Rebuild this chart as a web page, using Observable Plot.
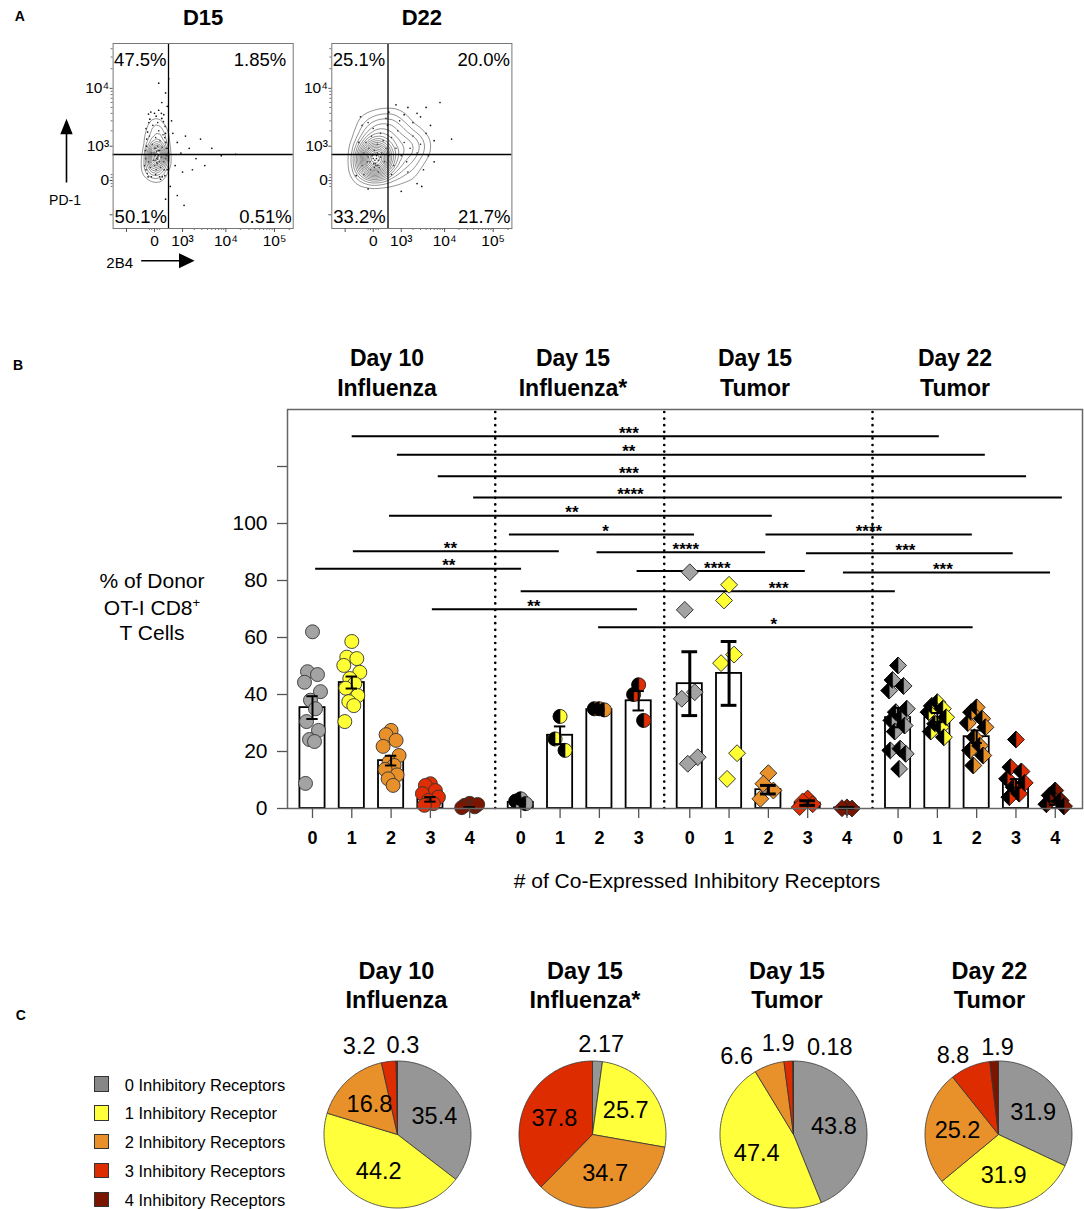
<!DOCTYPE html>
<html><head><meta charset="utf-8">
<script src="https://cdn.jsdelivr.net/npm/d3@7"></script>
<script src="https://cdn.jsdelivr.net/npm/@observablehq/plot@0.6"></script>
<style>
body{margin:0;background:#fff;}
#fig{position:relative;width:1084px;height:1209px;overflow:hidden;background:#fff;font-family:"Liberation Sans",Arial,Helvetica,sans-serif;color:#000}
</style></head><body><div id="fig"></div>
<script>
const FONT = '"Liberation Sans", Arial, Helvetica, sans-serif';

// ================= DATA =================
// Panel A (flow cytometry, raw fluorescence values)
const flowTitles = ["D15", "D22"];
const quadrantPercents = [["47.5%", "1.85%", "50.1%", "0.51%"], ["25.1%", "20.0%", "33.2%", "21.7%"]];
const gate2B4 = [341, 368];
const gatePD1 = [643, 643];
const flowXTicks = [-1000, 0, 1000, 10000, 100000];
const flowXTickLabels = ["", "0", "10³", "10⁴", "10⁵"];
const flowYTicks = [-1000, 0, 1000, 10000];
const flowYTickLabels = ["", "0", "10³", "10⁴"];
const flowXMinor = [-100, -50, 50, 100, 2000, 3000, 4000, 5000, 6000, 7000, 8000, 9000, 20000, 30000, 40000, 50000, 60000, 70000, 80000, 90000, 200000];
const flowYMinor = [-100, -50, 50, 100, 2000, 3000, 4000, 5000, 6000, 7000, 8000, 9000, 20000, 30000, 40000];
// dense population (drawn as contours + dots)
const d15Core = [
  [-120,400],[-80,250],[-60,700],[-40,1100],[-20,450],[0,300],[0,900],[10,600],[20,1500],[30,200],[40,500],[40,750],[50,350],[60,1000],[70,600],[80,2000],[90,400],[100,800],[110,1300],[120,250],[140,550],[160,950],[-100,1600],[-30,2500],[60,2800],[180,1700],[-150,120],[200,400],[20,100],[100,60],
  [30,650],[50,550],[10,450],[70,800],[-10,700],[40,380],[60,480],[20,900]
];
// outlying events (dots only)
const d15Scatter = [
  [-200,800],[-220,300],[-180,2200],[-90,3200],[30,3600],[150,3300],[240,2400],[260,1200],[280,600],[300,200],[230,80],[-60,60],[120,20],[-160,1400],[250,1800],[320,900],[200,3800],[-120,3900],[80,4500],[0,4000],
  [-190,500],[-170,1000],[-140,1900],[-110,2800],[190,2900],[230,1500],[270,900],[250,500],[210,200],[-180,200],[-70,4200],[140,4000],[-130,60],[160,60],
  [150,6000],[250,8500],[80,12000],[350,14000],[300,5200],[450,3000],[500,1800],[700,1200],[900,700],[1200,1600],[1500,900],[2200,500],[2800,1400],[5000,900],[8000,600],[16000,650],[600,300],[1000,150],[1800,200],[400,-100],[700,-300],[1100,-600],[250,-400],[3500,300]
];
const d22Core = [
  [-250,300],[-200,700],[-150,1200],[-120,400],[-80,900],[-50,200],[-30,1600],[0,500],[0,2200],[20,800],[40,350],[60,600],[80,1100],[100,450],[120,250],[150,1800],[180,700],[220,1300],[250,400],[300,900],[350,2500],[400,600],[500,1500],[600,300],[700,900],[800,2000],[1000,600],[1200,1200],[1400,400],[1700,900],[2000,1600],[2500,700],[3000,1100],[900,3000],[300,3300],[-100,2800],[100,150],[500,100],[1500,150],[-200,100],[60,500],[30,450],[80,700],[-20,600],[150,550],[50,300],
  [-60,400],[10,350],[40,650],[-100,550],[90,300],[20,250]
];
const d22Scatter = [
  [3500,200],[4500,600],[4000,1800],[6000,1300],[2500,4000],[1500,5000],[700,5500],[4000,5000],[8000,6000],[14000,1400],[-300,3500],[-450,80],[3200,-100],[1000,-200],[-100,-150],[2000,2800],
  [3000,3500],[5000,2500],[6000,400],[2500,-50],[400,4200],[-250,2500],[-350,1200],[1200,3800]
];

// Panel B
const groupNames = ["Day 10 Influenza", "Day 15 Influenza*", "Day 15 Tumor", "Day 22 Tumor"];
const groupTitleLines = [["Day 10", "Influenza"], ["Day 15", "Influenza*"], ["Day 15", "Tumor"], ["Day 22", "Tumor"]];
const receptorCounts = [[0, 1, 2, 3, 4], [0, 1, 2, 3], [0, 1, 2, 3, 4], [0, 1, 2, 3, 4]];
const barMeans = [[35.4, 44.2, 16.8, 3.2, 0.3], [2.17, 25.7, 34.7, 37.8], [43.8, 47.4, 6.6, 1.9, 0.18], [31.9, 31.9, 25.2, 8.8, 1.9]];
const barSEM = [[4.0, 2.1, 1.7, 0.8, 0.15], [0.5, 3.1, 0.3, 3.4], [11.2, 11.2, 1.5, 0.8, 0.1], [3.4, 1.6, 2.2, 1.5, 0.6]];
const pointValues = [
  [[62, 48, 47, 44.3, 41, 38, 35, 30.5, 27.4, 24.2, 23.5, 8.8],
   [58.6, 53.1, 52.6, 50.2, 47.8, 45.6, 43.8, 42.2, 39.6, 37.5, 36.1, 30.5],
   [27.4, 25.9, 23.9, 21.8, 18.6, 16.3, 15.1, 13.7, 11.8, 10.4, 8.1],
   [8.7, 8.1, 6.3, 5.2, 4.0, 2.8, 1.7, 1.1],
   [1.8, 1.1, 0.6, 0.3, 1.4]],
  [[3.4, 2.6, 1.7],
   [32.3, 24.4, 20.4],
   [35, 35, 34.6],
   [43.4, 40, 30.9]],
  [[82.9, 69.7, 40.8, 38.5, 18, 15.7],
   [78.5, 73, 54, 51, 19.4, 10.4],
   [12.4, 8.7, 6.3, 3.4],
   [3.5, 2.5, 1.5, 0.5],
   [0.4, 0.1, 0]],
  [[50.2, 45.1, 43, 41.4, 35, 33.8, 32, 30.9, 29.1, 27, 21, 20.4, 19.2, 13.9],
   [37.3, 36, 35, 33.8, 32, 29.7, 28.5, 27, 25],
   [35.5, 33.8, 31.5, 30, 28.5, 25, 22, 20.4, 18.6, 15.1],
   [24.2, 14.5, 13, 10.4, 9, 7.5, 5.2, 4],
   [6.3, 4.6, 2.8, 1.5, 0.8]]
];
const yTicks = [0, 20, 40, 60, 80, 100, 120];
// significance brackets (x in category units, y in %)
const sigX1 = [1.01, 2.16, 3.20, 4.10, 1.96, 5.01, 1.04, 0.08, 5.31, 3.05, 7.28, 11.54, 7.24, 12.57, 8.26, 13.51];
const sigX2 = [15.95, 17.12, 18.17, 19.08, 11.70, 9.72, 6.28, 5.32, 14.83, 8.27, 16.81, 16.79, 11.53, 17.83, 12.54, 18.78];
const sigY = [130.6, 124.1, 116.6, 109.1, 102.7, 96.1, 90.3, 84.1, 76.2, 69.9, 63.6, 96.1, 89.9, 89.6, 83.3, 82.8];
const sigLabel = ["***", "**", "***", "****", "**", "*", "**", "**", "***", "**", "*", "****", "****", "***", "****", "***"];
const sigLabelX = [8.05, 8.05, 8.05, 8.09, 6.60, 7.46, 3.51, 3.47, 11.86, 5.63, 11.74, 14.16, 9.50, 15.09, 10.30, 16.04];

// Panel C
const pieValues = [[35.4, 44.2, 16.8, 3.2, 0.3], [2.17, 25.7, 34.7, 37.8], [43.8, 47.4, 6.6, 1.9, 0.18], [31.9, 31.9, 25.2, 8.8, 1.9]];
const legendLabels = ["0 Inhibitory Receptors", "1 Inhibitory Receptor", "2 Inhibitory Receptors", "3 Inhibitory Receptors", "4 Inhibitory Receptors"];

// ================= STYLE / LAYOUT =================
const dotColors = ["#a3a3a3", "#ffff33", "#e8912b", "#e02d04", "#7a1600"];
const pieColors = ["#969696", "#ffff3b", "#e8912b", "#dd2c00", "#7a1500"];
const legendColors = ["#878787", "#ffff3b", "#e8912b", "#dd2c00", "#7a1500"];
const jitterPx = [0, -5, 5, -8, 8, -2, 3, -6, 6, -3, 2, -7, 7, 1];
const groupGap = 0.3;
const pieCenters = [[396.5, 1134], [592, 1134], [792.5, 1134], [997.7, 1134]];
const pieTitleX = [396.5, 585, 787, 989.5];
const groupTitleX = [387, 573, 755, 955];
// nudges (px) for labels of small slices placed outside the pie
const outsideNudge = [[null, null, null, [-27.6, 1.2], [6.3, 1]], [[2.6, -0.2], null, null, null], [null, null, [-27, 6.7], [-9, -1.3], [36.8, 2.5]], [null, null, null, [-10.7, 4.4], [4.4, 2.7]]];

const fig = document.getElementById("fig");
function place(el, left, top) { el.style.position = "absolute"; el.style.left = left + "px"; el.style.top = top + "px"; fig.appendChild(el); return el; }
function label(text, x, y, size, weight = "normal", anchor = "middle") {
  const d = document.createElement("div");
  d.textContent = text;
  const tx = anchor === "middle" ? "-50%" : anchor === "end" ? "-100%" : "0";
  d.style.cssText = `position:absolute;left:${x}px;top:${y}px;font-size:${size}px;font-weight:${weight};white-space:nowrap;line-height:1;transform:translate(${tx},-50%);font-family:${FONT};color:#000`;
  fig.appendChild(d); return d;
}

// ================= PANEL A =================
function flowPlot(p, ml, mr, width, bw, th) {
  const core = p === 0 ? d15Core : d22Core;
  const scatter = p === 0 ? d15Scatter : d22Scatter;
  const q = quadrantPercents[p];
  const qText = (t, fa, ta, dx, dy) => Plot.text([t], {text: d => d, frameAnchor: fa, textAnchor: ta, lineAnchor: "middle", dx, dy, fontSize: 18.5});
  return Plot.plot({
    width, height: 270, marginLeft: ml, marginRight: mr, marginTop: 43, marginBottom: 42,
    style: {fontFamily: FONT, background: "transparent", overflow: "visible", color: "#000"},
    x: {type: "symlog", constant: 370, domain: [-2190, 240000]},
    y: {type: "symlog", constant: 450, domain: [-1865, 47850]},
    marks: [
      Plot.dot(scatter, {x: d => d[0], y: d => d[1], r: 0.85, fill: "#111", stroke: null}),
      Plot.dot(core, {x: d => d[0], y: d => d[1], r: 0.8, fill: "#222", stroke: null}),
      Plot.density(core, {x: d => d[0], y: d => d[1], bandwidth: bw, thresholds: th, stroke: "#666", strokeWidth: 0.7}),
      Plot.ruleX([gate2B4[p]], {stroke: "#000", strokeWidth: 1.3}),
      Plot.ruleY([gatePD1[p]], {stroke: "#000", strokeWidth: 1.3}),
      Plot.frame({stroke: "#777", strokeWidth: 1}),
      Plot.axisX({ticks: flowXTicks, tickFormat: d => flowXTickLabels[flowXTicks.indexOf(d)], tickSize: 4, tickPadding: 2, fontSize: 15.5, stroke: "#555", label: null}),
      Plot.axisX({ticks: flowXMinor, tickFormat: () => "", tickSize: 2, stroke: "#777", label: null}),
      Plot.axisY({ticks: flowYTicks, tickFormat: d => flowYTickLabels[flowYTicks.indexOf(d)], tickSize: 3, tickPadding: 1, fontSize: 15.5, stroke: "#555", label: null}),
      Plot.axisY({ticks: flowYMinor, tickFormat: () => "", tickSize: 2, stroke: "#777", label: null}),
      Plot.text([flowTitles[p]], {text: d => d, frameAnchor: "top", lineAnchor: "middle", dy: -26, fontSize: 22, fontWeight: "bold"}),
      qText(q[0], "top-left", "start", 1, 17),
      qText(q[1], "top-right", "end", p === 0 ? -7 : -2, 17),
      qText(q[2], "bottom-left", "start", 1.5, -11),
      qText(q[3], "bottom-right", "end", -1.5, -11)
    ]
  });
}
place(flowPlot(0, 112.6, 7.3, 300, 4, 12), 0, 0);
place(flowPlot(1, 111.3, 8.6, 300, 8, 18), 220, 0);

// arrows for panel A
const arrows = document.createElementNS("http://www.w3.org/2000/svg", "svg");
arrows.setAttribute("width", "260"); arrows.setAttribute("height", "300");
arrows.innerHTML = `<line x1="66.5" y1="182.5" x2="66.5" y2="132" stroke="#000" stroke-width="1.6"/>
<polygon points="66.5,118.8 60.3,134.3 72.7,134.3" fill="#000"/>
<line x1="141.2" y1="260.7" x2="181" y2="260.7" stroke="#000" stroke-width="1.6"/>
<polygon points="194.6,260.7 179,253.2 179,268.2" fill="#000"/>`;
place(arrows, 0, 0);
label("PD-1", 65, 199.7, 14);
label("2B4", 119.7, 261.5, 15);
label("A", 19.8, 16.4, 14, "bold");

// ================= PANEL B =================
const groupStart = [];
{ let s = 0; receptorCounts.forEach(c => { groupStart.push(s); s += c.length + groupGap; }); }
const bars = [];
receptorCounts.forEach((cats, g) => cats.forEach((k, i) => bars.push({g, k, pos: groupStart[g] + i, mean: barMeans[g][i], sem: barSEM[g][i]})));
const xDomain = [-0.636, 19.593];
const pxPerUnit = (1084 - 287 - 2) / (xDomain[1] - xDomain[0]);
const pts = [];
pointValues.forEach((cats, g) => cats.forEach((vals, i) => vals.forEach((v, j) =>
  pts.push({g, k: i, v, x: groupStart[g] + i + jitterPx[j % jitterPx.length] * (g === 3 ? 1.1 : 1) / pxPerUnit}))));
const separators = [0, 1, 2].map(g => (groupStart[g] + receptorCounts[g].length - 1 + groupStart[g + 1]) / 2);
const sig = sigLabel.map((l, i) => ({x1: sigX1[i], x2: sigX2[i], y: sigY[i], label: l, lx: sigLabelX[i]}));

const halfDisc = {draw(ctx, size) { const r = Math.sqrt(size / Math.PI); ctx.moveTo(0, -r); ctx.arc(0, 0, r, -Math.PI / 2, Math.PI / 2, true); ctx.closePath(); }};
const halfDiamond = {draw(ctx, size) { const h = Math.sqrt(size) * 0.62625; ctx.moveTo(0, -h); ctx.lineTo(-h, 0); ctx.lineTo(0, h); ctx.closePath(); }};
const ptsOf = g => pts.filter(d => d.g === g);
const capW = g => g === 2 ? 0.2 : 0.145;
const errMarks = [false, true].flatMap(thick => {
  const data = bars.filter(d => (d.g === 2) === thick);
  const sw = thick ? 3 : 2;
  return [
    Plot.ruleX(data, {x: "pos", y1: d => Math.max(0, d.mean - d.sem), y2: d => d.mean + d.sem, stroke: "#000", strokeWidth: sw}),
    Plot.ruleY(data, {x1: d => d.pos - capW(d.g), x2: d => d.pos + capW(d.g), y: d => d.mean + d.sem, stroke: "#000", strokeWidth: sw}),
    Plot.ruleY(data, {x1: d => d.pos - capW(d.g), x2: d => d.pos + capW(d.g), y: d => Math.max(0, d.mean - d.sem), stroke: "#000", strokeWidth: sw})
  ];
});

const B = Plot.plot({
  width: 1084, height: 600, marginLeft: 287, marginRight: 2, marginTop: 89, marginBottom: 112,
  style: {fontFamily: FONT, background: "transparent", overflow: "visible", color: "#000"},
  x: {domain: xDomain},
  y: {domain: [0, 140]},
  color: {type: "identity"},
  marks: [
    Plot.ruleX(separators, {y1: 0, y2: 140, stroke: "#000", strokeWidth: 2.7, strokeDasharray: "0,6.6", strokeLinecap: "round"}),
    Plot.ruleY(sig, {x1: "x1", x2: "x2", y: "y", stroke: "#000", strokeWidth: 2}),
    Plot.text(sig, {x: "lx", y: "y", text: "label", fontSize: 17, fontWeight: "bold", dy: -3, lineAnchor: "middle"}),
    Plot.rectY(bars, {x1: d => d.pos - 0.32, x2: d => d.pos + 0.32, y1: 0, y2: "mean", fill: "#fff", stroke: "#000", strokeWidth: 1.8}),
    // Day 10 influenza: circles
    Plot.dot(ptsOf(0), {x: "x", y: "v", r: 7, symbol: "circle", fill: d => dotColors[d.k], stroke: "#333", strokeWidth: 0.9}),
    // Day 15 influenza*: half black circles
    Plot.dot(ptsOf(1), {x: "x", y: "v", r: 7, symbol: "circle", fill: d => dotColors[d.k], stroke: "#222", strokeWidth: 0.9}),
    Plot.dot(ptsOf(1), {x: "x", y: "v", r: 7, symbol: halfDisc, fill: "#000", stroke: "#000", strokeWidth: 0.5}),
    // Day 15 tumor: diamonds
    Plot.dot(ptsOf(2), {x: "x", y: "v", r: 7.6, symbol: "diamond2", fill: d => dotColors[d.k], stroke: "#222", strokeWidth: 0.9}),
    // Day 22 tumor: half black diamonds
    Plot.dot(ptsOf(3), {x: "x", y: "v", r: 7.6, symbol: "diamond2", fill: d => dotColors[d.k], stroke: "#111", strokeWidth: 0.9}),
    Plot.dot(ptsOf(3), {x: "x", y: "v", r: 7.6, symbol: halfDiamond, fill: "#000", stroke: "#000", strokeWidth: 0.5}),
    ...errMarks,
    Plot.frame({stroke: "#666", strokeWidth: 1.5}),
    Plot.axisY({ticks: yTicks, tickFormat: d => d <= 100 ? String(d) : "", tickSize: 10, tickPadding: 10, fontSize: 21, stroke: "#555", strokeWidth: 1.3, label: null}),
    Plot.axisX({ticks: bars.map(d => d.pos), tickFormat: d => { const b = bars.find(b => Math.abs(b.pos - d) < 1e-9); return b ? String(b.k) : ""; },
      tickSize: 10, tickPadding: 13, fontSize: 18, fontWeight: "bold", stroke: "#555", strokeWidth: 1.3, label: null})
  ]
});
place(B, 0, 320);
groupTitleLines.forEach((lines, g) => { label(lines[0], groupTitleX[g], 358, 23, "bold"); label(lines[1], groupTitleX[g], 388, 23, "bold"); });
label("% of Donor", 152, 580, 21);
const cd8 = label("", 152, 606.7, 21); cd8.innerHTML = "OT-I CD8<sup style=\"font-size:13px;vertical-align:8px;line-height:0\">+</sup>";
label("T Cells", 152, 631.7, 21);
label("# of Co-Expressed Inhibitory Receptors", 697, 880, 21);
label("B", 18, 365, 14, "bold");

// ================= PANEL C =================
const R = 73.5, S = 125;
pieValues.forEach((vals, p) => {
  const arcs = d3.pie().sort(null).startAngle(0).endAngle(2 * Math.PI)(vals);
  const verts = [];
  arcs.forEach((a, i) => {
    const steps = Math.max(2, Math.ceil((a.endAngle - a.startAngle) / 0.02));
    verts.push({i, px: 0, py: 0});
    for (let j = 0; j <= steps; j++) {
      const t = a.startAngle + (a.endAngle - a.startAngle) * j / steps;
      verts.push({i, px: Math.sin(t), py: Math.cos(t)});
    }
    verts.push({i, px: 0, py: 0});
  });
  const labs = arcs.map((a, i) => {
    const mid = (a.startAngle + a.endAngle) / 2;
    if (a.value >= 10) return {text: String(a.value), lx: 0.56 * Math.sin(mid), ly: 0.56 * Math.cos(mid)};
    const n = outsideNudge[p][i] || [0, 0];
    return {text: String(a.value), lx: (90 * Math.sin(mid) + n[0]) / R, ly: (90 * Math.cos(mid) - n[1]) / R};
  });
  const pie = Plot.plot({
    width: 2 * S, height: 2 * S, margin: 0,
    style: {fontFamily: FONT, background: "transparent", overflow: "visible", color: "#000"},
    x: {domain: [-S / R, S / R], axis: null},
    y: {domain: [-S / R, S / R], axis: null},
    color: {type: "identity"},
    marks: [
      Plot.line(verts, {x: "px", y: "py", z: "i", fill: d => pieColors[d.i], stroke: "#333", strokeWidth: 0.8, curve: "linear"}),
      Plot.text(labs, {x: "lx", y: "ly", text: "text", fontSize: 23.5, fill: "#000"})
    ]
  });
  place(pie, pieCenters[p][0] - S, pieCenters[p][1] - S);
  label(groupTitleLines[p][0], pieTitleX[p], 972, 23.5, "bold");
  label(groupTitleLines[p][1], pieTitleX[p], 1001, 23.5, "bold");
});
legendLabels.forEach((t, i) => {
  const y = 1084.5 + i * 28.8;
  const sq = document.createElement("div");
  sq.style.cssText = `position:absolute;left:93.7px;top:${y - 8.2}px;width:13.5px;height:13.5px;background:${legendColors[i]};border:1.5px solid #333;`;
  fig.appendChild(sq);
  label(t, 124.7, y, 16.5, "normal", "start");
});
label("C", 20.7, 1015.4, 14, "bold");
</script></body></html>
